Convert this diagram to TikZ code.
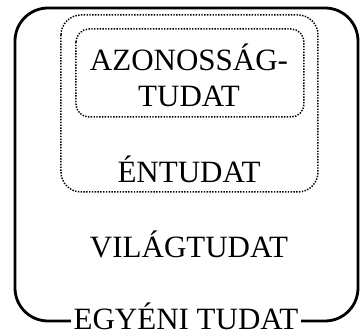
\documentclass[tikz,border=0pt]{standalone}
\usepackage{fontspec}
\setmainfont{Liberation Serif}
\usetikzlibrary{positioning}

\begin{document}
\begin{tikzpicture}[x=1pt,y=-1pt,
  every node/.style={font=\fontsize{31}{36}\selectfont,inner sep=0pt},
  kulso/.style={draw=black,line width=2.8pt,rounded corners=33pt},
  pontos/.style={draw=black,line width=1.5pt,dash pattern=on 1.4pt off 1.4pt},
  felirat/.style={fill=white,inner xsep=3pt,inner ysep=0pt,anchor=base}]
\useasboundingbox (0,0) rectangle (360,336);
\draw[kulso] (15,8) rectangle (358,321);
\draw[pontos,rounded corners=20pt] (61,15) rectangle (318,192);
\draw[pontos,rounded corners=13pt] (76,29) rectangle (304,117);
\node[anchor=base,align=center] (azon) at (189,107) {AZONOSSÁG-\\TUDAT};
\node[anchor=base] (en) at (189,183) {ÉNTUDAT};
\node[anchor=base] (vilag) at (189,258) {VILÁGTUDAT};
\node[felirat] (egyeni) at (186,330) {EGYÉNI TUDAT};
\end{tikzpicture}
\end{document}
